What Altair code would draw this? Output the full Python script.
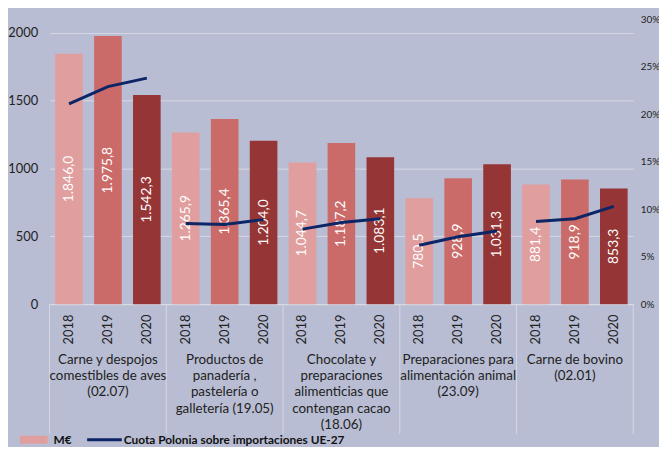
import altair as alt
import pandas as pd

groups = [
    "Carne y despojos\ncomestibles de aves\n(02.07)",
    "Productos de\npanadería ,\npastelería o\ngalletería (19.05)",
    "Chocolate y\npreparaciones\nalimenticias que\ncontengan cacao\n(18.06)",
    "Preparaciones para\nalimentación animal\n(23.09)",
    "Carne de bovino\n(02.01)",
]
years = ["2018", "2019", "2020"]
values_2018 = [1846.0, 1265.9, 1044.7, 780.5, 881.4]
values_2019 = [1975.8, 1365.4, 1187.2, 928.9, 918.9]
values_2020 = [1542.3, 1204.0, 1083.1, 1031.3, 853.3]
share_2018 = [21.1, 8.5, 7.9, 6.2, 8.7]
share_2019 = [22.9, 8.4, 8.6, 7.1, 9.0]
share_2020 = [23.8, 8.9, 9.0, 7.7, 10.3]
legend_labels = ["M€", "Cuota Polonia sobre importaciones UE-27"]

bar_colors = ["#E09E9E", "#CB6B69", "#963535"]
line_color = "#0B2566"
bg = "#B8BDD3"
font = "Lato"

rows = []
vals = [values_2018, values_2019, values_2020]
shares = [share_2018, share_2019, share_2020]
for gi, g in enumerate(groups):
    for yi, y in enumerate(years):
        v = vals[yi][gi]
        lab = f"{v:,.1f}".replace(",", "X").replace(".", ",").replace("X", ".")
        rows.append({
            "key": f"{gi}|{y}",
            "gi": gi,
            "year": y,
            "value": v,
            "mid": v / 2,
            "share": shares[yi][gi] / 100,
            "label": lab,
            "group": g,
        })
df = pd.DataFrame(rows)
keys = list(df["key"])

H = 288
xenc = alt.X(
    "key:N",
    sort=keys,
    scale=alt.Scale(paddingInner=0, paddingOuter=0),
    axis=alt.Axis(
        title=None,
        labelExpr="split(datum.label, '|')[1]",
        labelAngle=270,
        labelFontSize=13,
        labelFont=font,
        labelColor="#222222",
        labelPadding=10,
        ticks=False,
        domainColor="#D9DCE6",
        domainWidth=1,
        grid=False,
    ),
)

yscale = alt.Scale(domain=[0, 2100], nice=False)

bars = alt.Chart(df).mark_bar(width=alt.RelativeBandSize(0.71)).encode(
    x=xenc,
    y=alt.Y(
        "value:Q",
        scale=yscale,
        axis=alt.Axis(
            title=None,
            values=[0, 500, 1000, 1500, 2000],
            format="d",
            labelFontSize=13,
            labelFont=font,
            labelColor="#222222",
            labelPadding=12,
            ticks=False,
            domain=False,
            grid=True,
            gridColor="#D6D9E4",
            gridWidth=1,
        ),
    ),
    color=alt.Color("year:N", scale=alt.Scale(domain=years, range=bar_colors), legend=None),
)

bar_labels = alt.Chart(df).mark_text(
    angle=270, color="white", fontSize=14, font=font, baseline="middle", align="center"
).encode(
    x=alt.X("key:N", sort=keys),
    y=alt.Y("mid:Q", scale=yscale),
    text="label:N",
)

group_labels = alt.Chart(df).transform_filter(alt.datum.year == "2019").mark_text(
    fontSize=13.5, font=font, color="#222222", baseline="middle", align="center",
    lineBreak="\n", lineHeight=16.5,
).encode(
    x=alt.X("key:N", sort=keys),
    y=alt.value(H + 56),
    text="group:N",
)

seps = alt.Chart(df).transform_filter(alt.datum.year == "2018").mark_rule(
    color="#D6D9E4", strokeWidth=1
).encode(
    x=alt.X("key:N", sort=keys, bandPosition=0),
    y=alt.value(H),
    y2=alt.value(H + 131),
)
sep_last = alt.Chart(df).transform_filter(alt.datum.key == keys[-1]).mark_rule(
    color="#D6D9E4", strokeWidth=1
).encode(
    x=alt.X("key:N", sort=keys, bandPosition=1),
    y=alt.value(H),
    y2=alt.value(H + 131),
)

LY = H + 137
leg_df = pd.DataFrame({"label": legend_labels})
leg_rect = alt.Chart(leg_df).transform_filter(alt.datum.label == legend_labels[0]).mark_rect(
    color=bar_colors[0]
).encode(x=alt.value(-30), x2=alt.value(-2), y=alt.value(LY - 4), y2=alt.value(LY + 4))
leg_t1 = alt.Chart(leg_df).transform_filter(alt.datum.label == legend_labels[0]).mark_text(
    font=font, fontSize=12, fontWeight="bold", color="#111111", align="left", baseline="middle"
).encode(x=alt.value(4), y=alt.value(LY), text="label:N")
leg_line = alt.Chart(leg_df).transform_filter(alt.datum.label == legend_labels[1]).mark_rule(
    color=line_color, strokeWidth=3
).encode(x=alt.value(38), x2=alt.value(73), y=alt.value(LY))
leg_t2 = alt.Chart(leg_df).transform_filter(alt.datum.label == legend_labels[1]).mark_text(
    font=font, fontSize=12, fontWeight="bold", color="#111111", align="left", baseline="middle"
).encode(x=alt.value(75), y=alt.value(LY), text="label:N")

left = alt.layer(bars, bar_labels, seps, sep_last, group_labels, leg_rect, leg_t1, leg_line, leg_t2)

line = alt.Chart(df).mark_line(color=line_color, strokeWidth=3).encode(
    x=alt.X("key:N", sort=keys),
    y=alt.Y(
        "share:Q",
        scale=alt.Scale(domain=[0, 0.30], nice=False),
        axis=alt.Axis(
            title=None,
            orient="right",
            values=[0, 0.05, 0.10, 0.15, 0.20, 0.25, 0.30],
            format=".0%",
            labelFontSize=10,
            labelFont=font,
            labelColor="#222222",
            labelPadding=7,
            ticks=False,
            domain=False,
            grid=False,
        ),
    ),
    detail="gi:N",
)

chart = alt.layer(left, line).resolve_scale(y="independent").properties(
    width=590,
    height=H,
    background=bg,
    padding={"left": 42, "top": 9, "right": 26, "bottom": 142},
    autosize=alt.AutoSizeParams(type="none"),
).configure_view(stroke=None)

chart.save("out.html", embed_options={"renderer": "svg", "actions": False})
